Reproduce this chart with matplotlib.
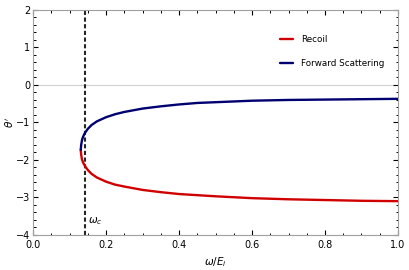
#!/usr/bin/env python3
# -*- coding: utf-8 -*-

import matplotlib
matplotlib.use("Agg")
import matplotlib.pyplot as plt
from matplotlib.ticker import MultipleLocator

# values
omega_c = 0.1425

x_fwd = [0.1305, 0.1312, 0.132, 0.134, 0.137, 0.142, 0.150, 0.160, 0.175,
         0.20, 0.225, 0.25, 0.30, 0.35, 0.40, 0.45, 0.50, 0.60, 0.70,
         0.80, 0.90, 1.00]
y_fwd = [-1.73, -1.65, -1.58, -1.47, -1.38, -1.28, -1.17, -1.07, -0.97,
         -0.86, -0.78, -0.72, -0.63, -0.57, -0.52, -0.48, -0.46, -0.42,
         -0.40, -0.39, -0.38, -0.37]

x_rec = [0.1305, 0.1312, 0.132, 0.134, 0.137, 0.142, 0.150, 0.160, 0.175,
         0.20, 0.225, 0.25, 0.30, 0.35, 0.40, 0.45, 0.50, 0.60, 0.70,
         0.80, 0.90, 1.00]
y_rec = [-1.73, -1.81, -1.88, -1.99, -2.07, -2.16, -2.27, -2.37, -2.47,
         -2.58, -2.66, -2.71, -2.80, -2.86, -2.91, -2.94, -2.97, -3.02,
         -3.05, -3.07, -3.09, -3.10]

labels = ["Recoil", "Forward Scattering"]

fig = plt.figure(figsize=(4.09, 2.70), dpi=100)
ax = fig.add_axes([0.081, 0.13, 0.892, 0.833])

ax.axhline(0, color="#d0d0d0", lw=0.8, zorder=1)
ax.axvline(omega_c, color="#262626", lw=1.5, ls=(0, (2.0, 1.2)), zorder=2)

ax.plot(x_rec, y_rec, color="#d10000", lw=1.7, label=labels[0],
        solid_capstyle="round", zorder=3)
ax.plot(x_fwd, y_fwd, color="#000070", lw=1.7, label=labels[1],
        solid_capstyle="round", zorder=3)

ax.text(omega_c + 0.008, -3.68, r"$\omega_c$", fontsize=7.5)

ax.set_xlim(0, 1)
ax.set_ylim(-4, 2)
ax.xaxis.set_major_locator(MultipleLocator(0.2))
ax.xaxis.set_minor_locator(MultipleLocator(0.05))
ax.yaxis.set_major_locator(MultipleLocator(1))
ax.yaxis.set_minor_locator(MultipleLocator(0.2))
ax.xaxis.set_major_formatter(plt.FuncFormatter(lambda v, p: "%.1f" % v))
ax.yaxis.set_major_formatter(plt.FuncFormatter(
    lambda v, p: ("%d" % v).replace("-", "\u2212")))

ax.tick_params(which="both", direction="in", top=True, right=True,
               color="black", labelsize=7)
ax.tick_params(axis="x", which="major", pad=4)
ax.tick_params(axis="y", which="major", pad=2)
ax.tick_params(which="major", length=3.5, width=0.8)
ax.tick_params(which="minor", length=1.8, width=0.7)
for s in ax.spines.values():
    s.set_color("#a0a0a0")
    s.set_linewidth(0.8)

ax.set_xlabel(r"$\omega/E_i$", fontsize=7.5)
ax.set_ylabel(r"$\theta'$", fontsize=7.5)
ax.xaxis.set_label_coords(0.5, -0.09)
ax.yaxis.set_label_coords(-0.048, 0.5)

ax.legend(loc="upper left", bbox_to_anchor=(0.655, 0.925), frameon=False,
          fontsize=6.3, handlelength=1.5, handletextpad=0.9, labelspacing=1.8)

fig.savefig("out.png", dpi=100)
